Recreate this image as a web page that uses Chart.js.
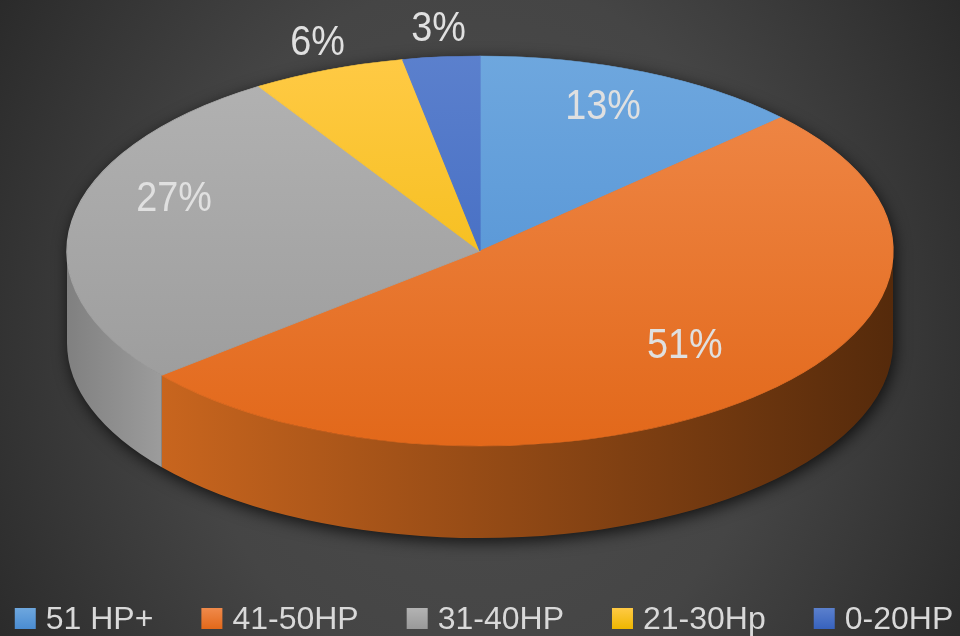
<!DOCTYPE html>
<html>
<head>
<meta charset="utf-8">
<script src="https://cdn.jsdelivr.net/npm/chart.js@4.4.0/dist/chart.umd.min.js"></script>
<style>
  html, body { margin: 0; padding: 0; background: #333; }
  canvas { display: block; }
</style>
</head>
<body>
<canvas id="hpChart" width="960" height="636"></canvas>
<script>
var labels = ['51 HP+', '41-50HP', '31-40HP', '21-30Hp', '0-20HP'];
var shares = [13, 51, 27, 6, 3];

// face colours, top of the disc to bottom
var topColors = ['#6ea7de', '#f08a4b', '#b3b3b3', '#ffca45', '#5b80cd'];
var bottomColors = ['#4a8cd2', '#e2681a', '#999999', '#eeb600', '#3762bd'];
// side wall colours, left to right
var sideLeft = ['#3c6e9e', '#c8651e', '#808080', '#c08c00', '#2b4f94'];
var sideRight = ['#2a4d70', '#552a0b', '#9c9c9c', '#8a6400', '#1e3a70'];

// where the tilted disc sits on the canvas
var pieX = 480, pieY = 251, rx = 413, ry = 195, depth = 92;
// labels are spread as if seen in perspective: the hub looks higher up
var hubY = 218, reachUp = 161, reachDown = 228;
var labelColor = '#e0e0e0';

function faceGradient(c) {
  var i = c.dataIndex;
  var area = c.chart.chartArea;
  if (!area || i === undefined) return topColors[0];
  var g = c.chart.ctx.createLinearGradient(0, area.top, 0, area.bottom);
  g.addColorStop(0, topColors[i]);
  g.addColorStop(1, bottomColors[i]);
  return g;
}

var pie3d = {
  id: 'pie3d',
  beforeDraw: function (chart) {
    var ctx = chart.ctx;
    ctx.save();
    ctx.translate(480, 330);
    ctx.scale(1, 700 / 600);
    var bg = ctx.createRadialGradient(0, 0, 0, 0, 0, 600);
    bg.addColorStop(0, '#4d4d4d');
    bg.addColorStop(0.5, '#454545');
    bg.addColorStop(1, '#262626');
    ctx.fillStyle = bg;
    ctx.fillRect(-1000, -1000, 2000, 2000);
    ctx.restore();
  },
  beforeDatasetsDraw: function (chart) {
    var ctx = chart.ctx;
    var arcs = chart.getDatasetMeta(0).data;
    var R = arcs[0].outerRadius, cx = arcs[0].x, cy = arcs[0].y;

    // soft shadow round the body of the disc
    ctx.save();
    ctx.shadowColor = 'rgba(0,0,0,0.75)';
    ctx.shadowBlur = 16;
    ctx.shadowOffsetX = 2;
    ctx.shadowOffsetY = 4;
    ctx.fillStyle = '#222';
    ctx.beginPath();
    ctx.ellipse(pieX, pieY + depth, rx, ry, 0, 0, Math.PI);
    ctx.lineTo(pieX - rx, pieY);
    ctx.ellipse(pieX, pieY, rx, ry, 0, Math.PI, 2 * Math.PI);
    ctx.closePath();
    ctx.fill();
    ctx.restore();

    // front walls, only the part of each slice facing us
    arcs.forEach(function (arc, i) {
      var lo = Math.max(arc.startAngle, 0);
      var hi = Math.min(arc.endAngle, Math.PI);
      if (hi <= lo) return;
      var xl = pieX + rx * Math.cos(hi), xr = pieX + rx * Math.cos(lo);
      var g = ctx.createLinearGradient(xl, 0, xr, 0);
      g.addColorStop(0, sideLeft[i]);
      g.addColorStop(1, sideRight[i]);
      ctx.fillStyle = g;
      ctx.beginPath();
      ctx.ellipse(pieX, pieY, rx, ry, 0, lo, hi);
      ctx.ellipse(pieX, pieY + depth, rx, ry, 0, hi, lo, true);
      ctx.closePath();
      ctx.fill();
    });

    // squash the round pie onto the top face
    ctx.save();
    ctx.translate(pieX, pieY);
    ctx.scale(rx / R, ry / R);
    ctx.translate(-cx, -cy);
  },
  afterDatasetsDraw: function (chart) {
    var ctx = chart.ctx;
    ctx.restore();
    var arcs = chart.getDatasetMeta(0).data;

    ctx.save();
    ctx.fillStyle = labelColor;
    ctx.font = '42px "Liberation Sans", Arial, sans-serif';
    ctx.textAlign = 'center';
    ctx.textBaseline = 'middle';
    arcs.forEach(function (arc, i) {
      var mid = (arc.startAngle + arc.endAngle) / 2;
      var c = Math.cos(mid), s = Math.sin(mid);
      var x, y;
      if (shares[i] < 10) {
        // thin slices get their label just outside the rim
        x = pieX + (rx + 28) * c;
        y = pieY + (ry + 28) * s;
      } else {
        x = pieX + rx * 0.75 * c;
        y = hubY + (s < 0 ? reachUp : reachDown) * 0.75 * s;
      }
      ctx.save();
      ctx.translate(x, y);
      ctx.scale(0.9, 1);
      ctx.fillText(shares[i] + '%', 0, 0);
      ctx.restore();
    });
    ctx.restore();
  },
  afterDraw: function (chart) {
    // legend row along the bottom
    var ctx = chart.ctx;
    var box = 21, textGap = 10, itemGap = 48, base = 629;
    ctx.save();
    ctx.font = '32px "Liberation Sans", Arial, sans-serif';
    ctx.textBaseline = 'alphabetic';
    var widths = labels.map(function (l) { return box + textGap + ctx.measureText(l).width; });
    var total = widths.reduce(function (a, b) { return a + b; }, 0) + itemGap * (labels.length - 1);
    var x = 484 - total / 2;
    labels.forEach(function (l, i) {
      var g = ctx.createLinearGradient(0, base - box, 0, base);
      g.addColorStop(0, topColors[i]);
      g.addColorStop(1, bottomColors[i]);
      ctx.fillStyle = g;
      ctx.fillRect(x, base - box, box, box);
      ctx.fillStyle = '#d9d9d9';
      ctx.fillText(l, x + box + textGap, base);
      x += widths[i] + itemGap;
    });
    ctx.restore();
  }
};

new Chart(document.getElementById('hpChart'), {
  type: 'pie',
  data: {
    labels: labels,
    datasets: [{
      data: shares,
      backgroundColor: faceGradient,
      borderColor: faceGradient,
      borderWidth: 1
    }]
  },
  options: {
    responsive: false,
    animation: false,
    devicePixelRatio: 1,
    layout: { padding: 0 },
    plugins: {
      legend: { display: false },
      tooltip: { enabled: false }
    }
  },
  plugins: [pie3d]
});
</script>
</body>
</html>
